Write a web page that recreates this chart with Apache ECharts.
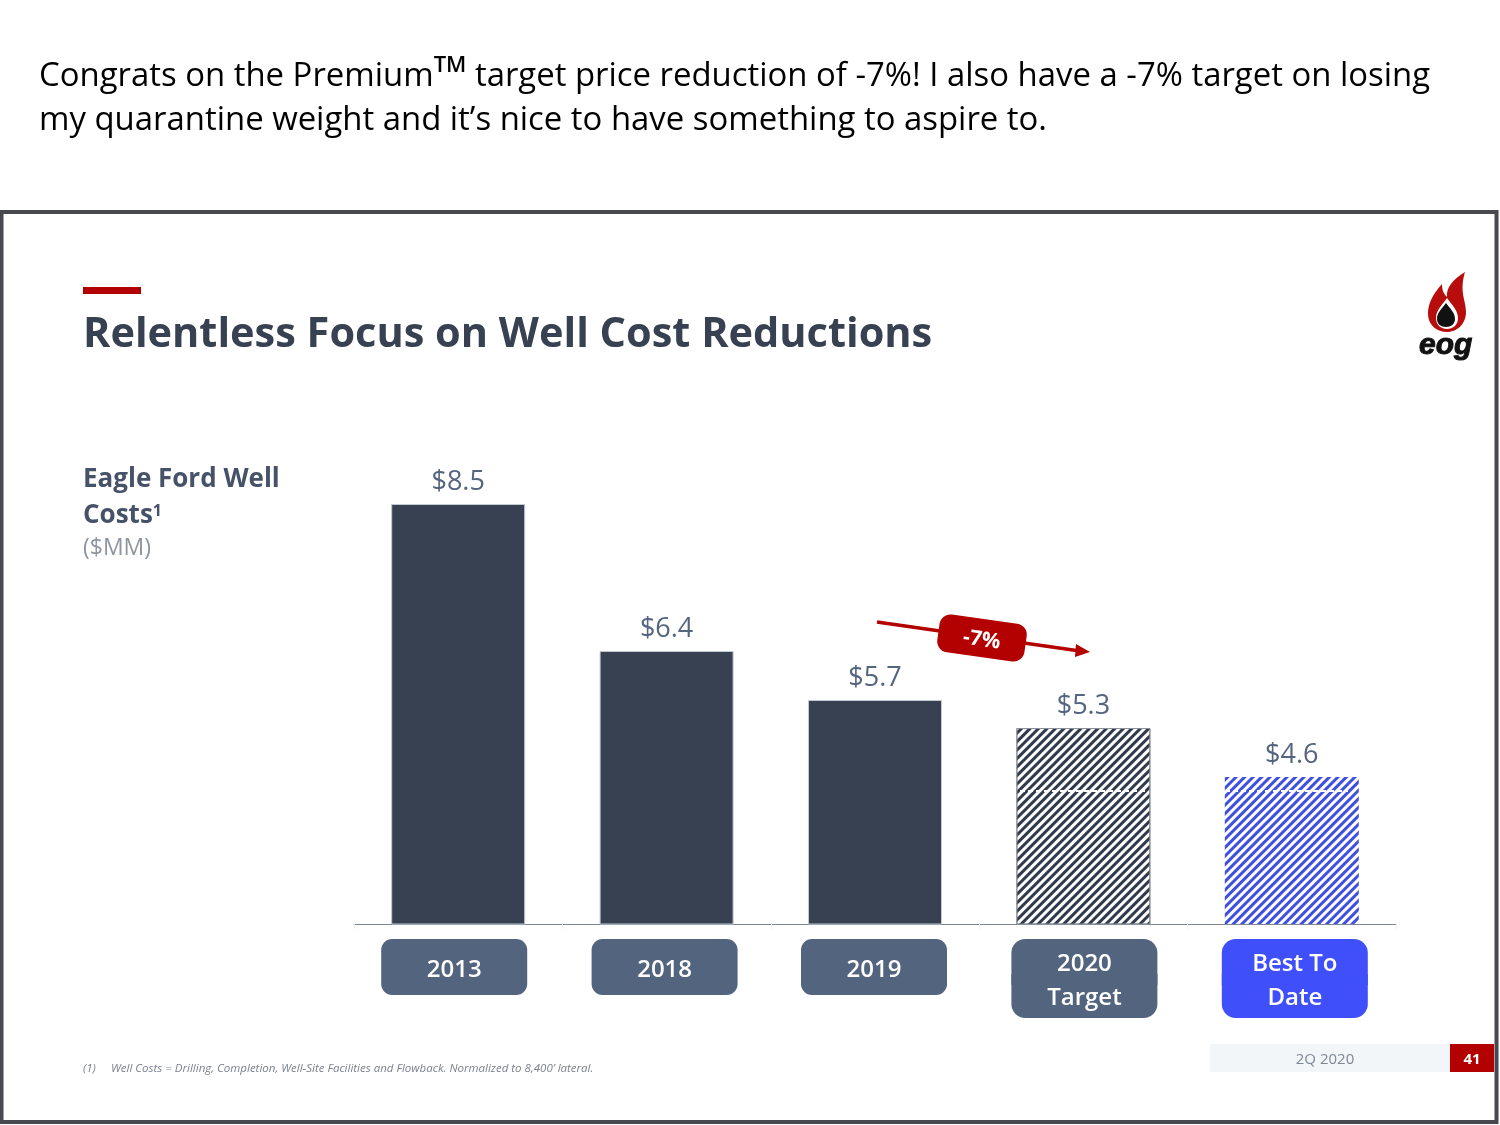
<!DOCTYPE html>
<html>
<head>
<meta charset="utf-8">
<title>Well costs</title>
<script src="https://cdn.jsdelivr.net/npm/echarts@6/dist/echarts.min.js"></script>
<style>
html,body{margin:0;padding:0;background:#fff}
#chart{width:1500px;height:1125px}
</style>
</head>
<body>
<div id="chart"></div>
<script>
var categories = ['2013', '2018', '2019', '2020\nTarget', 'Best To\nDate'];
var costs = [8.5, 6.4, 5.7, 5.3, 4.6];
var yMin = 2.5, yMax = 8.5;

var slate = '#374151', pillGrey = '#53647f', blue = '#3f50fb', red = '#b30000', labelGrey = '#55657f';
var font = '"Open Sans"';

echarts.graphic.registerShape('flame', echarts.graphic.extendPath('M1465 272C1452 280 1446 288 1447 297C1443 293 1442 289 1442 284C1432 295 1428 304 1428 314C1428 325 1437 332 1447 332C1458 332 1466 323 1466 312C1466 300 1459 292 1465 272Z'));
echarts.graphic.registerShape('flameHole', echarts.graphic.extendPath('M1447 298C1451 304 1458 310 1458 318C1458 325 1453 329 1447 329C1441 329 1436 325 1436 318C1436 310 1443 304 1447 298Z'));
echarts.graphic.registerShape('drop', echarts.graphic.extendPath('M1446 303C1450 309 1455 312 1455 319C1455 324 1451 327 1446 327C1441 327 1437 324 1437 319C1437 312 1442 309 1446 303Z'));

function hatch(color, gap) {
  return {
    color: color, symbol: 'rect', symbolSize: 1, rotation: -Math.PI / 4,
    dashArrayX: [1, 0], dashArrayY: [gap, gap]
  };
}

var seriesData = costs.map(function (v, i) {
  if (i == 3) return {value: v, itemStyle: {color: '#fff', borderColor: '#8b919c', borderWidth: 1, decal: hatch('#2f3a4c', 2.2)}};
  if (i == 4) return {value: v, itemStyle: {color: '#fff', decal: hatch('#3f50e0', 2.8)}};
  return {value: v, itemStyle: {color: slate, borderColor: '#c4cad2', borderWidth: 1}};
});

// pills sit a few px off the bar centres in the slide, spacer tokens push them.
// token height is bigger than lineHeight on the two line ones so the halves overlap,
// top padding counts in the box height and nudges the text down by half of it
function pillRich() {
  var base = {color: '#fff', fontFamily: font, fontSize: 24, fontWeight: 600, align: 'center', width: 146};
  function mk(col, extra) { return Object.assign({}, base, {backgroundColor: col}, extra); }
  return {
    one: mk(pillGrey, {height: 50, lineHeight: 44, borderRadius: 11, padding: [6, 0, 0, 0]}),
    greyTop: mk(pillGrey, {height: 42, lineHeight: 34, borderRadius: [14, 14, 0, 0], padding: [4, 0, 0, 0]}),
    greyBot: mk(pillGrey, {height: 40, lineHeight: 34, borderRadius: [0, 0, 14, 14], padding: [4, 0, 0, 0]}),
    blueTop: mk(blue, {height: 42, lineHeight: 34, borderRadius: [14, 14, 0, 0], padding: [4, 0, 0, 0]}),
    blueBot: mk(blue, {height: 40, lineHeight: 34, borderRadius: [0, 0, 14, 14], padding: [4, 0, 0, 0]}),
    r8: {width: 8}, r4: {width: 4}, r2: {width: 2}, l2: {width: 2}, l6: {width: 6}
  };
}
function pillLabel(value, index) {
  var p = value.split('\n');
  if (index == 0) return '{one|' + p[0] + '}{r8|}';
  if (index == 1) return '{one|' + p[0] + '}{r4|}';
  if (index == 2) return '{one|' + p[0] + '}{r2|}';
  if (index == 3) return '{l2|}{greyTop|' + p[0] + '}\n{l2|}{greyBot|' + p[1] + '}';
  return '{l6|}{blueTop|' + p[0] + '}\n{l6|}{blueBot|' + p[1] + '}';
}

var graphics = [
  // frame of the pasted slide
  {type: 'rect', silent: true, z: -1, shape: {x: 1.5, y: 212, width: 1495, height: 910}, style: {fill: '#fff', stroke: '#48494e', lineWidth: 4}},
  {type: 'text', x: 39, y: 55, style: {
    text: 'Congrats on the Premium{sup|TM} target price reduction of -7%! I also have a -7% target on losing\nmy quarantine weight and it\u2019s nice to have something to aspire to.',
    font: '400 32.9px ' + font, fill: '#000', lineHeight: 44,
    rich: {sup: {fontSize: 22, fontFamily: font, fontWeight: 600, verticalAlign: 'top', lineHeight: 30, fill: '#000'}}
  }},
  {type: 'rect', shape: {x: 83, y: 287, width: 58, height: 7}, style: {fill: red}},
  {type: 'text', x: 83, y: 467, style: {text: 'Eagle Ford Well', font: '700 26px ' + font, fill: '#465267'}},
  {type: 'text', x: 83, y: 503, style: {text: 'Costs{s|1}', font: '700 26px ' + font, fill: '#465267',
    rich: {s: {fontSize: 16, fontWeight: 700, fontFamily: font, verticalAlign: 'top', fill: '#465267'}}}},
  {type: 'text', x: 83, y: 537, style: {text: '($MM)', font: '400 23px ' + font, fill: '#8d95a1'}},
  // -7% arrow
  {type: 'line', shape: {x1: 877, y1: 622, x2: 1080, y2: 651}, style: {stroke: red, lineWidth: 3.5}},
  {type: 'polygon', shape: {points: [[1090, 652], [1075, 657], [1076, 644]]}, style: {fill: red}},
  {type: 'group', x: 982, y: 638, rotation: -Math.PI * 8 / 180, children: [
    {type: 'rect', shape: {x: -44, y: -19, width: 88, height: 38, r: 11}, style: {fill: red}},
    {type: 'text', style: {text: '-7%', x: 0, y: 2, align: 'center', verticalAlign: 'middle', font: '700 21px ' + font, fill: '#fff'}}
  ]},
  // the white broken line that runs through the two hatched bars
  {type: 'line', shape: {x1: 1020, y1: 791, x2: 1148, y2: 791}, z: 20, style: {stroke: '#fff', lineWidth: 2, lineDash: [5, 3]}},
  {type: 'line', shape: {x1: 1225, y1: 791, x2: 1348, y2: 791}, z: 20, style: {stroke: '#fff', lineWidth: 2, lineDash: [5, 3]}},
  // logo
  {type: 'flame', style: {fill: '#b80d0d'}},
  {type: 'flameHole', style: {fill: '#fff'}},
  {type: 'drop', style: {fill: '#111'}},
  {type: 'text', x: 1419, y: 331, style: {text: 'eog', font: 'italic 700 30px "Liberation Sans"', fill: '#111', stroke: '#111', lineWidth: 1}},
  // footer
  {type: 'text', x: 83, y: 1063, style: {text: '(1)', font: 'italic 400 11.5px ' + font, fill: '#7a8290'}},
  {type: 'text', x: 111, y: 1063, style: {text: 'Well Costs = Drilling, Completion, Well-Site Facilities and Flowback. Normalized to 8,400\u2019 lateral.', font: 'italic 400 11.5px ' + font, fill: '#7a8290'}},
  {type: 'rect', shape: {x: 1210, y: 1044, width: 240, height: 28}, style: {fill: '#f3f6f8'}},
  {type: 'text', style: {text: '2Q 2020', x: 1325, y: 1060, align: 'center', verticalAlign: 'middle', font: '400 15px ' + font, fill: '#7f8894'}},
  {type: 'rect', shape: {x: 1450, y: 1044, width: 44, height: 28}, style: {fill: red}},
  {type: 'text', style: {text: '41', x: 1472, y: 1060, align: 'center', verticalAlign: 'middle', font: '700 15px ' + font, fill: '#fff'}}
];

var option = {
  backgroundColor: '#fff',
  animation: false,
  title: {
    text: 'Relentless Focus on Well Cost Reductions',
    left: 78, top: 309,
    textStyle: {fontFamily: font, fontSize: 41.5, fontWeight: 700, color: '#374151'}
  },
  grid: {left: 354, top: 504, width: 1042, height: 420},
  xAxis: {
    type: 'category',
    data: categories,
    axisLine: {lineStyle: {color: '#7d8798', width: 1}},
    axisTick: {show: true, length: 5, lineStyle: {color: '#eceef1'}},
    axisLabel: {margin: 21, interval: 0, formatter: pillLabel, rich: pillRich()}
  },
  yAxis: {type: 'value', min: yMin, max: yMax, show: false, splitLine: {show: false}},
  series: [{
    type: 'bar',
    barWidth: 134,
    data: seriesData,
    label: {
      show: true, position: 'top', distance: 8,
      fontFamily: font, fontSize: 27, color: labelGrey,
      formatter: function (p) { return '$' + p.value.toFixed(1); }
    }
  }],
  graphic: graphics
};

var chart = echarts.init(document.getElementById('chart'), null, {renderer: 'canvas'});
chart.setOption(option);
</script>
</body>
</html>
